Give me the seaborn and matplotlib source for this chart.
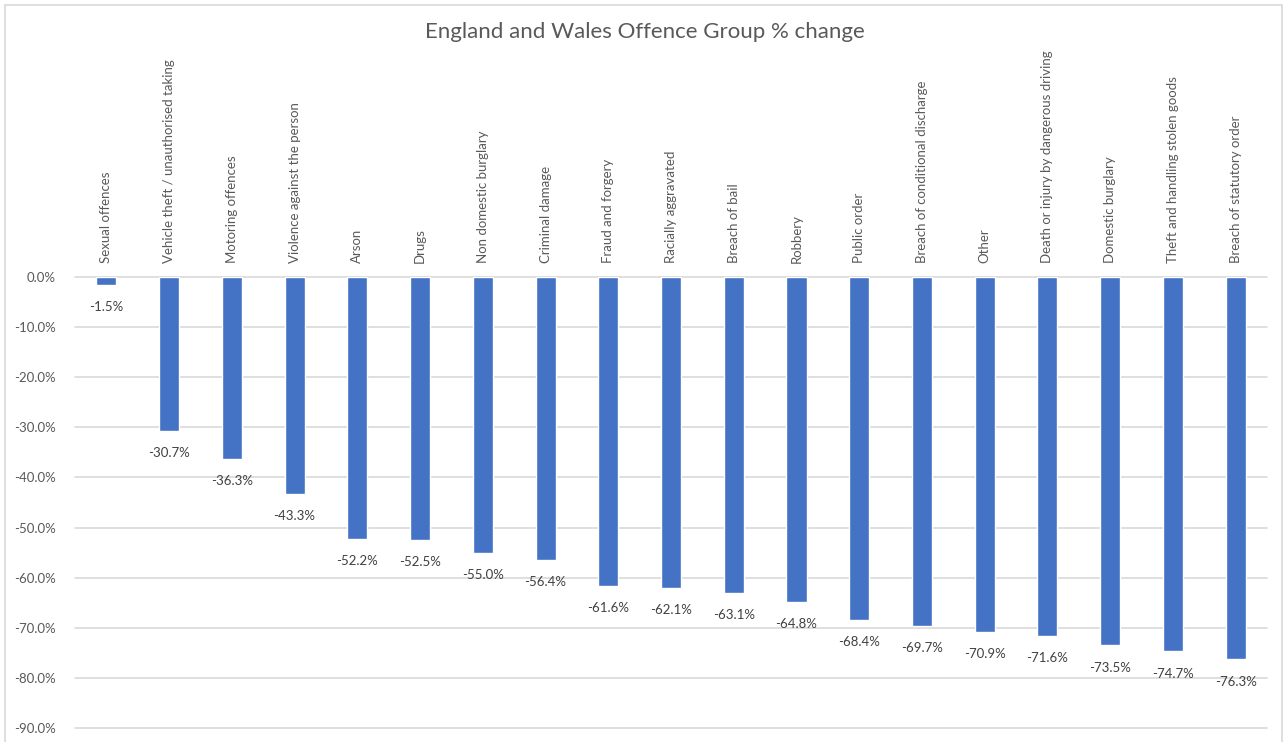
import matplotlib
matplotlib.use("Agg")
import matplotlib.pyplot as plt
import seaborn as sns
import pandas as pd
from matplotlib.patches import Rectangle
from matplotlib.ticker import FuncFormatter

# Données
offences = [
    "Sexual offences", "Vehicle theft / unauthorised taking", "Motoring offences",
    "Violence against the person", "Arson", "Drugs", "Non domestic burglary",
    "Criminal damage", "Fraud and forgery", "Racially aggravated", "Breach of bail",
    "Robbery", "Public order", "Breach of conditional discharge", "Other",
    "Death or injury by dangerous driving", "Domestic burglary",
    "Theft and handling stolen goods", "Breach of statutory order",
]
pct_change = [
    -1.5, -30.7, -36.3, -43.3, -52.2, -52.5, -55.0, -56.4, -61.6, -62.1,
    -63.1, -64.8, -68.4, -69.7, -70.9, -71.6, -73.5, -74.7, -76.3,
]
title = "England and Wales Offence Group % change"

df = pd.DataFrame({"offence": offences, "change": pct_change})

sns.set_style("white")
plt.rcParams["font.family"] = ["Lato", "DejaVu Sans"]

fig = plt.figure(figsize=(12.85, 7.42), dpi=100)
ax = fig.add_axes([0.0584, 0.0189, 0.9276, 0.6078])

sns.barplot(data=df, x="offence", y="change", color="#4472C4", width=0.32,
            saturation=1, ax=ax)

ax.set_ylim(-90, 0)
ax.set_yticks(range(-90, 1, 10))
ax.yaxis.set_major_formatter(FuncFormatter(lambda v, p: f"{v:.1f}%"))
ax.grid(axis="y", color="#d9d9d9", linewidth=1.2)
ax.set_axisbelow(True)
for s in ax.spines.values():
    s.set_visible(False)
for gl in ax.get_ygridlines():
    gl.set_clip_on(False)

ax.xaxis.tick_top()
ax.set_xlabel("")
ax.set_ylabel("")
ax.tick_params(axis="x", length=0, pad=10, labelsize=9.5, labelcolor="#595959", rotation=90)
ax.tick_params(axis="y", length=0, pad=14, labelsize=9.5, labelcolor="#595959")
for lbl in ax.get_xticklabels():
    lbl.set_verticalalignment("bottom")

# étiquettes de données
for i, v in enumerate(pct_change):
    ax.annotate(f"{v:.1f}%", (i, v), xytext=(0, -16), textcoords="offset points",
                ha="center", va="center", fontsize=9.5, color="#404040")

fig.text(0.502, 0.957, title, ha="center", va="center", fontsize=16, color="#595959")

# cadre du graphique
fig.patches.append(Rectangle((0.004, -0.01), 0.994, 1.003, transform=fig.transFigure,
                             fill=False, edgecolor="#d9d9d9", linewidth=1.2))

fig.savefig("out.png", dpi=100)
